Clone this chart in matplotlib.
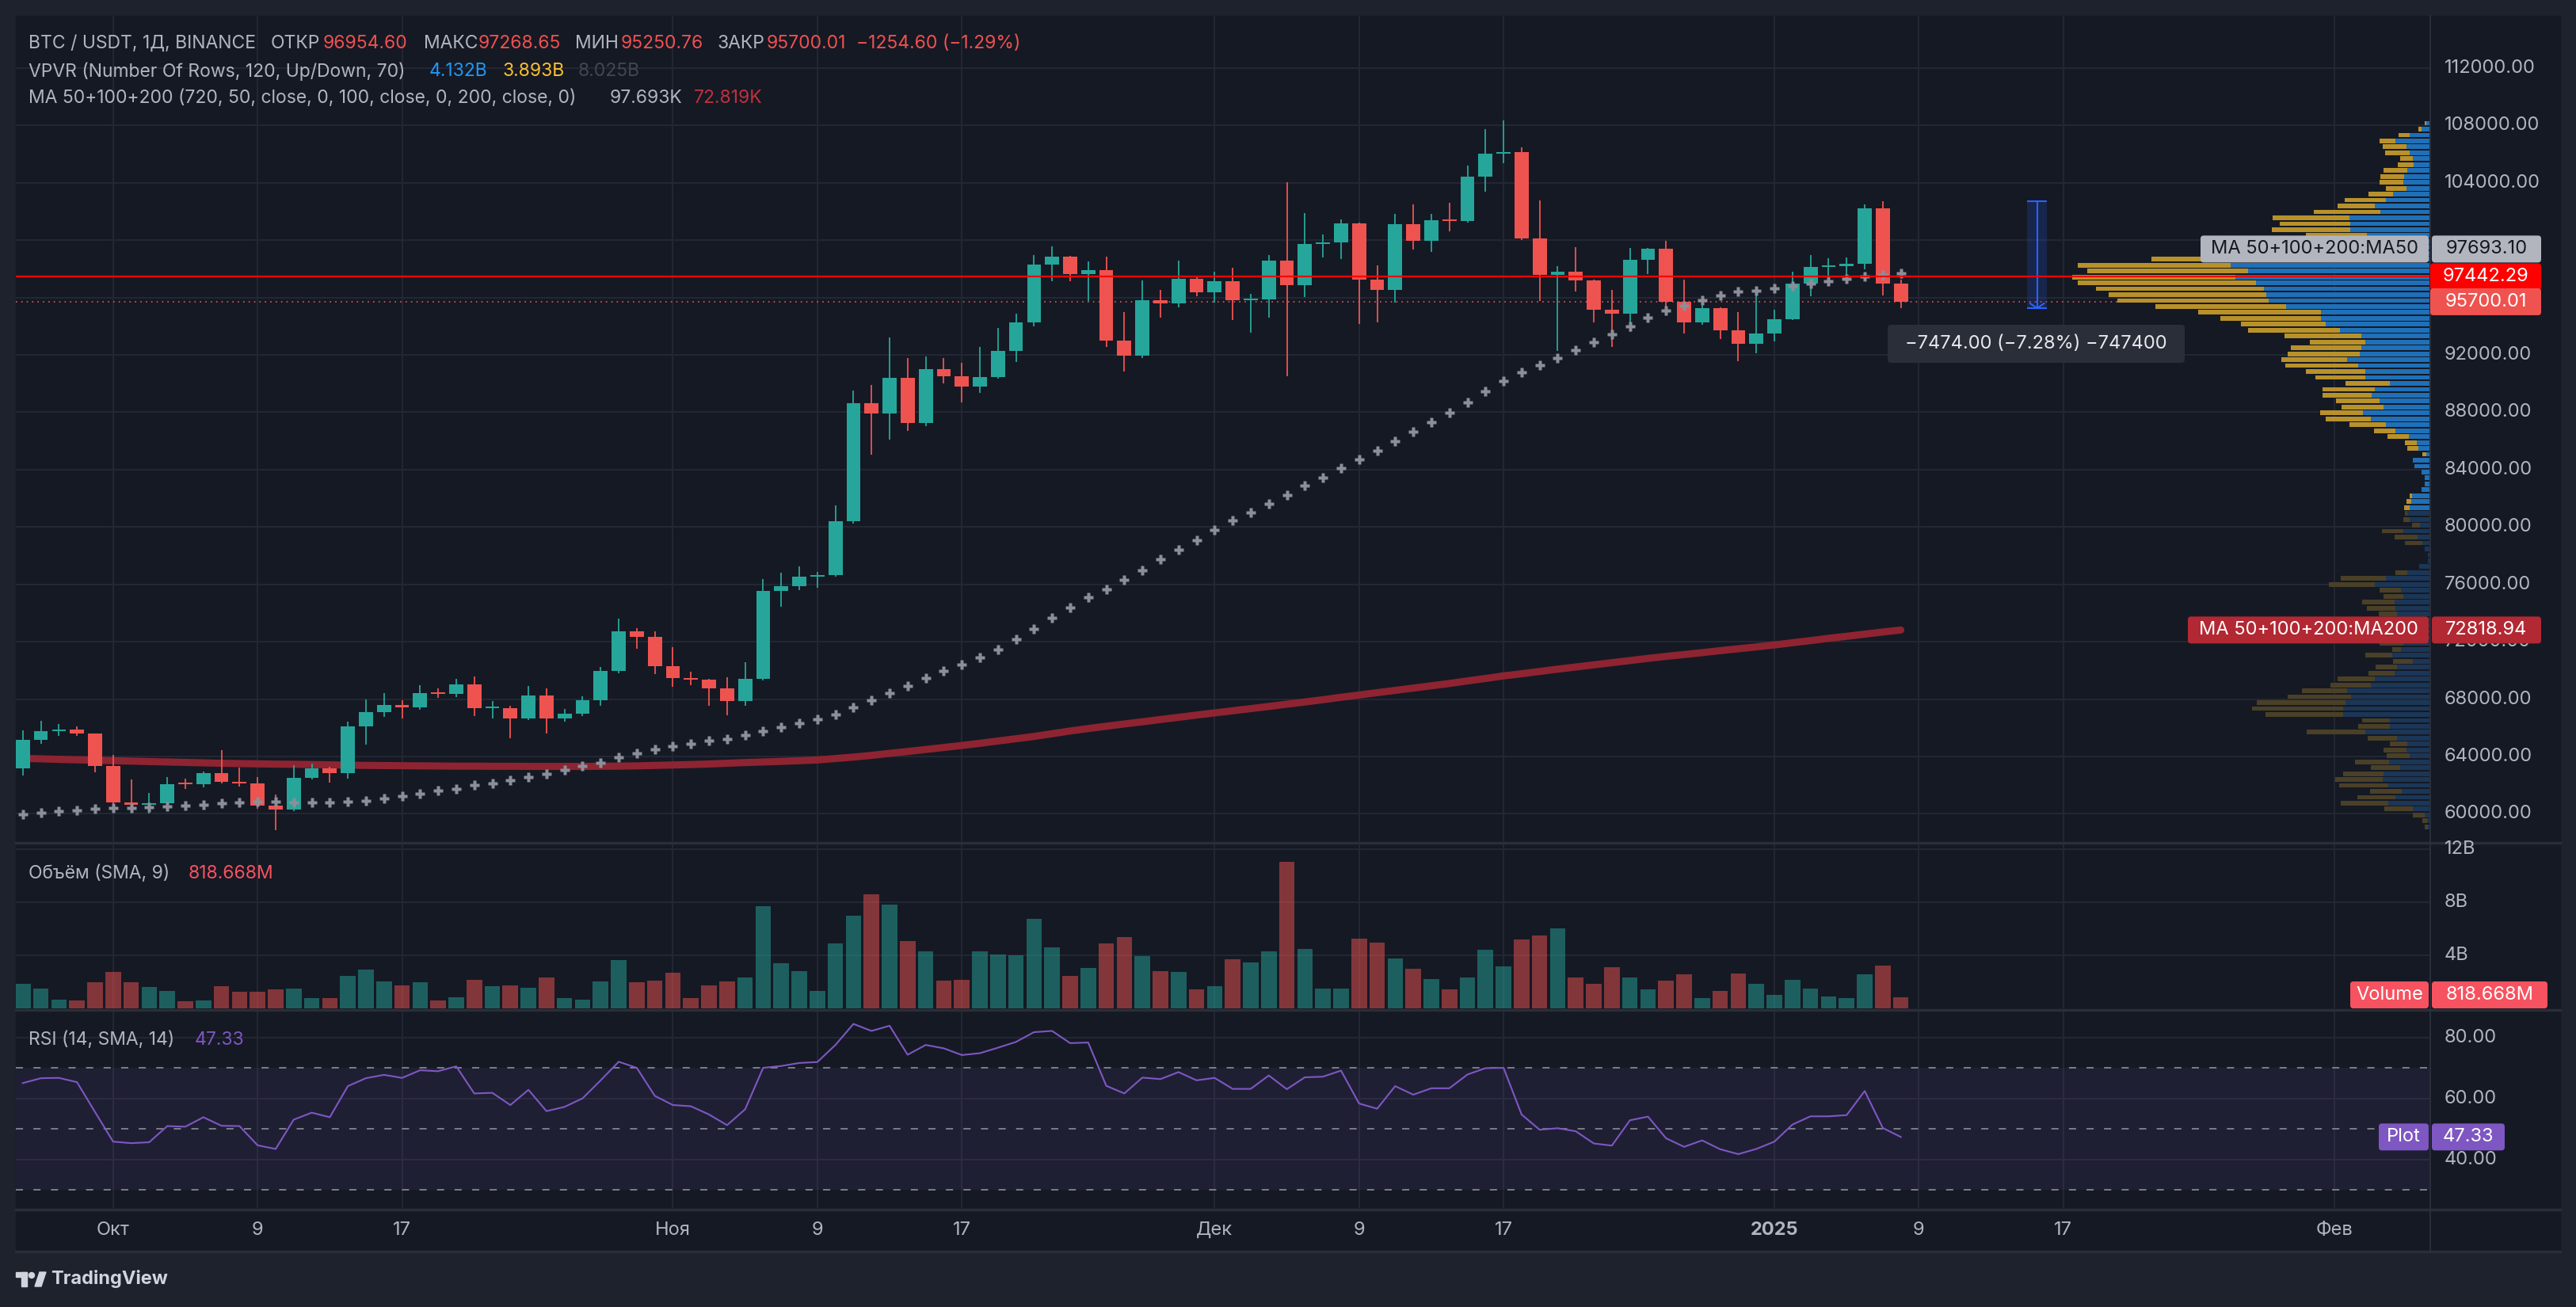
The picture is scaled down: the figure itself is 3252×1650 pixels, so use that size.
import numpy as np
import pandas as pd
import matplotlib
matplotlib.use("Agg")
import matplotlib.pyplot as plt
from matplotlib import transforms, patches

plt.rcParams['font.family'] = ['Inter', 'DejaVu Sans']

# ---- data (BTC/USDT daily, Binance) ----
dates = pd.date_range("2024-09-26", "2025-01-08", freq="D")

opens = [63150, 65180, 65790, 65890, 65600, 63330, 60800, 60650, 60750, 62080,
         62060, 62820, 62240, 62130, 60600, 60300, 62500, 63150, 62850, 66100,
         67110, 67610, 67420, 68430, 68360, 69040, 67370, 67380, 66650, 68240,
         66640, 67010, 67940, 69990, 72740, 72340, 70290, 69460, 69360, 68730,
         67880, 69400, 75550, 75880, 76540, 76670, 80380, 88650, 87890, 90370,
         87260, 91030, 90530, 89810, 90470, 92290, 94270, 98310, 98840, 97610,
         97880, 92980, 91920, 95830, 95560, 97320, 96360, 97150, 95790, 95880,
         98570, 96880, 99730, 99830, 101150, 97220, 96550, 101120, 99930, 101380,
         101320, 104430, 106020, 106110, 100130, 97550, 97780, 97190, 95130, 94870,
         98640, 99370, 95690, 94240, 95230, 93710, 92750, 93510, 94500, 96980,
         98110, 98180, 98340, 102235, 96954.60]
highs = [65840, 66500, 66270, 66120, 65600, 64130, 62420, 61490, 62550, 62450,
         62960, 64470, 63240, 62540, 61360, 63400, 63500, 63260, 66450, 67970,
         68430, 67940, 68990, 68770, 69400, 69560, 67890, 67530, 68900, 68770,
         67340, 68210, 70260, 73630, 72970, 72700, 71640, 69920, 69430, 69530,
         70590, 76380, 76840, 77240, 76870, 81500, 89510, 89900, 93210, 91790,
         91860, 91790, 91460, 92550, 93880, 94870, 98970, 99570, 98900, 98510,
         98870, 94970, 97180, 96550, 98570, 97450, 97810, 98080, 96260, 98970,
         104030, 101880, 100390, 101420, 101210, 98240, 101810, 102480, 101850, 102600,
         105190, 107740, 108353, 106480, 102770, 98170, 99480, 97260, 96520, 99470,
         99470, 99960, 97250, 95960, 95330, 95000, 96320, 95160, 97810, 98940,
         98740, 98800, 102480, 102724.38, 97268.65]
lows = [62700, 64900, 65460, 65460, 62900, 60200, 60100, 60010, 60460, 61720,
        61850, 62120, 61920, 60360, 58895, 60170, 62400, 62200, 62480, 64810,
        66780, 66680, 67280, 68100, 68140, 66800, 66660, 65270, 66550, 65600,
        66450, 66820, 67540, 69790, 71510, 69760, 68870, 69000, 67540, 66880,
        67540, 69300, 74420, 75580, 75750, 76540, 80210, 85040, 86100, 86700,
        87030, 90010, 88680, 89340, 90330, 91520, 94010, 97120, 97120, 95730,
        92550, 90830, 91790, 94600, 95330, 96090, 95660, 94400, 93540, 94570,
        90500, 96020, 98800, 98670, 94140, 94240, 95660, 99330, 99200, 100590,
        101220, 103370, 105350, 99990, 95730, 92250, 96390, 94240, 92550, 93580,
        97610, 95300, 93510, 94110, 93080, 91560, 92090, 92920, 94400, 96060,
        97480, 97220, 97980, 96160, 95250.76]
closes = [65180, 65790, 65890, 65600, 63330, 60800, 60650, 60750, 62080, 62060,
          62820, 62240, 62130, 60600, 60300, 62500, 63150, 62850, 66100, 67110,
          67610, 67420, 68430, 68360, 69040, 67370, 67380, 66650, 68240, 66640,
          67010, 67940, 69990, 72740, 72340, 70290, 69460, 69360, 68730, 67880,
          69400, 75550, 75880, 76540, 76670, 80380, 88650, 87890, 90370, 87260,
          91030, 90530, 89810, 90470, 92290, 94270, 98310, 98840, 97610, 97880,
          92980, 91920, 95830, 95560, 97320, 96360, 97150, 95790, 95880, 98570,
          96880, 99730, 99830, 101150, 97220, 96550, 101120, 99930, 101380, 101320,
          104430, 106020, 106110, 100130, 97550, 97780, 97190, 95130, 94870, 98640,
          99370, 95690, 94240, 95230, 93710, 92750, 93510, 94500, 96980, 98110,
          98180, 98340, 102235, 96954.61, 95700.01]

# volume in billions USDT
volume = [1.86, 1.51, 0.63, 0.57, 1.98, 2.75, 1.98, 1.63, 1.33, 0.51,
          0.57, 1.69, 1.27, 1.27, 1.45, 1.51, 0.75, 0.80, 2.45, 2.92,
          2.04, 1.75, 1.98, 0.57, 0.86, 2.16, 1.69, 1.75, 1.57, 2.33,
          0.80, 0.63, 2.04, 3.63, 1.98, 2.10, 2.69, 0.75, 1.75, 2.04,
          2.33, 7.69, 3.39, 2.80, 1.33, 4.92, 6.98, 8.57, 7.80, 5.10,
          4.27, 2.10, 2.16, 4.27, 4.04, 3.98, 6.75, 4.57, 2.45, 3.04,
          4.92, 5.39, 3.92, 2.80, 2.75, 1.45, 1.69, 3.69, 3.45, 4.27,
          11.04, 4.45, 1.51, 1.51, 5.27, 4.98, 3.75, 2.98, 2.22, 1.45,
          2.33, 4.39, 3.16, 5.22, 5.51, 6.04, 2.33, 1.86, 3.10, 2.33,
          1.45, 2.10, 2.57, 0.80, 1.33, 2.63, 1.86, 1.04, 2.16, 1.51,
          0.92, 0.80, 2.57, 3.22, 0.818668]

ma50 = [59970, 60100, 60200, 60270, 60370, 60400, 60430, 60470, 60500, 60600,
        60630, 60730, 60800, 60830, 60830, 60810, 60800, 60800, 60860, 60930,
        61100, 61230, 61430, 61620, 61750, 62020, 62150, 62350, 62580, 62780,
        63040, 63340, 63570, 63930, 64230, 64500, 64700, 64900, 65100, 65230,
        65490, 65760, 66020, 66320, 66620, 66920, 67440, 67940, 68440, 68930,
        69460, 69960, 70420, 70920, 71480, 72170, 72900, 73660, 74360, 75090,
        75680, 76310, 76970, 77730, 78390, 79090, 79780, 80440, 81010, 81640,
        82200, 82860, 83460, 84120, 84710, 85310, 85970, 86630, 87290, 87990,
        88710, 89480, 90200, 90770, 91260, 91790, 92350, 92880, 93410, 94010,
        94600, 95070, 95430, 95830, 96120, 96390, 96490, 96620, 96820, 96980,
        97120, 97280, 97450, 97580, 97693.10]
ma200 = [63870, 63840, 63800, 63770, 63740, 63710, 63680, 63650, 63620, 63590,
         63560, 63530, 63510, 63490, 63470, 63460, 63440, 63420, 63400, 63380,
         63370, 63360, 63350, 63340, 63330, 63330, 63320, 63320, 63310, 63310,
         63310, 63310, 63320, 63330, 63350, 63380, 63410, 63440, 63480, 63530,
         63580, 63620, 63660, 63710, 63760, 63860, 63960, 64080, 64220, 64350,
         64490, 64630, 64770, 64920, 65080, 65240, 65400, 65590, 65780, 65950,
         66110, 66270, 66420, 66580, 66730, 66890, 67040, 67190, 67340, 67490,
         67650, 67800, 67960, 68130, 68290, 68450, 68610, 68770, 68930, 69090,
         69270, 69440, 69620, 69770, 69930, 70090, 70240, 70390, 70540, 70690,
         70840, 70980, 71110, 71240, 71380, 71510, 71640, 71780, 71930, 72080,
         72240, 72380, 72530, 72680, 72818.94]

rsi = [65.0, 66.6, 66.7, 65.3, 55.5, 45.8, 45.3, 45.6, 50.9, 50.7,
       53.8, 51.0, 50.9, 44.6, 43.4, 53.0, 55.3, 53.8, 64.0, 66.6,
       67.7, 66.7, 69.2, 68.9, 70.5, 61.6, 61.8, 57.8, 62.8, 55.8,
       57.2, 60.0, 65.9, 72.0, 70.0, 60.8, 57.8, 57.4, 54.7, 51.2,
       56.4, 70.0, 70.6, 71.6, 71.9, 77.5, 84.4, 82.1, 83.8, 74.3,
       77.5, 76.4, 74.2, 74.8, 76.6, 78.5, 81.7, 82.1, 78.1, 78.3,
       64.1, 61.6, 66.8, 66.3, 68.6, 65.9, 66.7, 63.1, 63.1, 67.5,
       63.0, 66.9, 67.1, 69.1, 58.3, 56.6, 64.0, 61.2, 63.3, 63.3,
       67.8, 69.9, 70.0, 54.7, 49.7, 50.2, 49.2, 45.2, 44.5, 52.8,
       54.0, 46.9, 44.1, 46.2, 43.3, 41.7, 43.4, 45.8, 51.4, 54.1,
       54.1, 54.5, 62.4, 50.3, 47.33]

# visible range volume profile, 120 rows from top (108353) to bottom (58895)
vp_high, vp_low = 108353, 58895
vp_total = [13, 28, 73, 118, 111, 105, 70, 76, 108, 116,
            118, 103, 143, 198, 216, 270, 366, 350, 368, 288,
            340, 420, 520, 648, 818, 796, 831, 818, 776, 746,
            726, 638, 538, 488, 440, 422, 338, 280, 323, 331,
            345, 336, 288, 266, 196, 250, 250, 218, 206, 256,
            242, 188, 130, 100, 58, 54, 18, 40, 36, 21,
            13, 13, 20, 48, 56, 60, 58, 63, 43, 113,
            83, 58, 13, 6, 6, 26, 80, 208, 236, 118,
            108, 158, 148, 120, 128, 100, 80, 90, 118, 88,
            150, 86, 126, 143, 216, 231, 298, 331, 402, 413,
            383, 158, 168, 286, 146, 93, 108, 101, 175, 138,
            203, 221, 211, 140, 170, 208, 106, 40, 18, 13]
vp_up = [10, 21, 48, 80, 56, 48, 40, 38, 53, 60,
         63, 56, 86, 103, 128, 116, 188, 186, 186, 148,
         170, 210, 260, 320, 463, 423, 453, 405, 386, 380,
         375, 335, 253, 253, 243, 210, 160, 150, 160, 163,
         193, 168, 150, 150, 93, 128, 136, 118, 108, 156,
         138, 103, 80, 50, 32, 28, 10, 40, 36, 21,
         13, 13, 20, 42, 45, 48, 53, 48, 23, 63,
         30, 18, 13, 6, 6, 26, 53, 103, 128, 68,
         63, 83, 80, 78, 78, 60, 50, 55, 63, 68,
         88, 40, 78, 83, 128, 138, 193, 183, 196, 203,
         203, 93, 93, 150, 78, 53, 56, 48, 96, 70,
         108, 110, 98, 66, 80, 98, 40, 13, 8, 6]
vp_value_area_rows = 66

hline_price = 97442.29
measure_top, measure_bottom = 102724.38, 95250.38

tick_dates = ["2024-10-01", "2024-10-09", "2024-10-17", "2024-11-01", "2024-11-09",
              "2024-11-17", "2024-12-01", "2024-12-09", "2024-12-17", "2025-01-01",
              "2025-01-09", "2025-01-17", "2025-02-01"]
tick_labels = ["Окт", "9", "17", "Ноя", "9", "17", "Дек", "9", "17", "2025", "9", "17", "Фев"]
price_ticks = list(range(60000, 112001, 4000))
vol_ticks = [4, 8, 12]
rsi_ticks = [80, 60, 40]

# ---- colours ----
OUTER = "#1e222d"
BG = "#151924"
GRID = "#232733"
SEP = "#2a2e39"
TXT = "#b2b5be"
GREEN = "#26a69a"
RED = "#ef5350"
RED_T = "#f0514f"

W, H = 3252, 1650
fig = plt.figure(figsize=(W / 100, H / 100), dpi=100, facecolor=OUTER)


def frect(x0, y0, x1, y1):
    return [x0 / W, 1 - y1 / H, (x1 - x0) / W, (y1 - y0) / H]


fig.add_artist(patches.Rectangle((20 / W, 1 - 1580 / H), 3212 / W, 1560 / H,
                                 transform=fig.transFigure, color=BG, zorder=-10))

ax = fig.add_axes(frect(20, 20, 3068, 1062))
ax_vol = fig.add_axes(frect(20, 1066, 3068, 1273), sharex=ax)
ax_rsi = fig.add_axes(frect(20, 1277, 3068, 1525), sharex=ax)
ax_vp = fig.add_axes(frect(20, 20, 3068, 1062), sharey=ax)

for a in (ax, ax_vol, ax_rsi, ax_vp):
    a.set_facecolor("none")
    for s in a.spines.values():
        s.set_visible(False)
    a.tick_params(left=False, bottom=False, labelleft=False, labelbottom=False)

n = len(dates)
x = np.arange(n)
o, h, l, c = map(np.array, (opens, highs, lows, closes))
up = c >= o
cols = np.where(up, GREEN, RED)

ax.set_xlim(-0.386, 133.32)
ax.set_ylim(58095, 115630)
ax_vol.set_ylim(0, 12.36)
ax_rsi.set_ylim(24.04, 88.46)

tick_idx = [(pd.Timestamp(d) - dates[0]).days for d in tick_dates]

# grid
for p in price_ticks:
    ax.axhline(p, color=GRID, lw=1.5, zorder=0)
for v in vol_ticks:
    ax_vol.axhline(v, color=GRID, lw=1.5, zorder=0)
for r in rsi_ticks:
    ax_rsi.axhline(r, color=GRID, lw=1.5, zorder=0)
for i in tick_idx:
    for a in (ax, ax_vol, ax_rsi):
        a.axvline(i, color=GRID, lw=1.5, zorder=0)

# candles
ax.vlines(x, l, h, colors=cols, lw=1.3, zorder=3)
ax.bar(x, np.maximum(np.abs(c - o), 110), bottom=np.minimum(o, c), width=0.78,
       color=cols, linewidth=0, zorder=4)

# moving averages
ax.plot(x, ma200, color="#8e2431", lw=6.5, solid_capstyle="round", zorder=2)
ax.plot(x, ma50, ls="none", marker="P", ms=8, color="#8c8f9a", mec="none", zorder=5)

# last price line
ax.axhline(closes[-1], color=RED, lw=1.2, ls=(0, (1, 3.1)), zorder=1)

# volume profile
rows = np.arange(len(vp_total))
row_h = (vp_high - vp_low) / len(vp_total)
centers = vp_high - (rows + 0.5) * row_h
bright = rows < vp_value_area_rows
ax_vp.barh(centers, -np.array(vp_total), height=row_h * 0.78,
           color=np.where(bright, "#b8912a", "#4a4027"), linewidth=0, zorder=2)
ax_vp.barh(centers, -np.array(vp_up), height=row_h * 0.78,
           color=np.where(bright, "#1f70b8", "#1b3656"), linewidth=0, zorder=3)
ax_vp.set_xlim(-5604, 0)
ax_vp.axhline(hline_price, color="#ff0000", lw=1.6, zorder=10)

# measure tool
xm = 111.55
ax.fill_between([111.0, 112.1], measure_bottom, measure_top, color="#2962ff",
                alpha=0.18, lw=0, zorder=6)
ax.vlines(xm, measure_bottom, measure_top, color="#2962ff", lw=1.5, zorder=7)
ax.hlines([measure_top, measure_bottom], 111.0, 112.1, color="#2962ff", lw=1.5, zorder=7)
ax.plot([xm - 0.38, xm, xm + 0.38], [measure_bottom + 330, measure_bottom, measure_bottom + 330],
        color="#2962ff", lw=1.5, zorder=7)

# volume
ax_vol.bar(x, volume, width=0.86, color=cols, alpha=0.5, linewidth=0)

# RSI
ax_rsi.axhspan(30, 70, color="#7e57c2", alpha=0.1, lw=0)
for lev in (70, 50, 30):
    ax_rsi.axhline(lev, color="#787b86", lw=1.45, ls=(0, (4.5, 6.5)))
ax_rsi.plot(x, rsi, color="#7e57c2", lw=1.5)

# separators
def fig_hline(y, x0=20, x1=3232, lw=2.5, color=SEP):
    fig.add_artist(plt.Line2D([x0 / W, x1 / W], [1 - y / H, 1 - y / H],
                              transform=fig.transFigure, color=color, lw=lw, zorder=5))

fig_hline(1064)
fig_hline(1275)
fig_hline(1527)
fig_hline(1580)
fig.add_artist(plt.Line2D([3068 / W, 3068 / W], [1 - 20 / H, 1 - 1580 / H],
                          transform=fig.transFigure, color=SEP, lw=1.5, zorder=5))


def ypx(axis, val):
    return H - axis.transData.transform((0, val))[1]


FS = 17
BH = 34

# label boxes on the price axis (y centres in pixels)
y_h = ypx(ax, hline_price)
y_last = ypx(ax, closes[-1])
y50 = y_h - BH - 1
y200 = ypx(ax, ma200[-1])
covered = [y_h, y_last, y50]

# right-axis tick labels (those fully hidden under a label box are not drawn)
bl_main = transforms.blended_transform_factory(fig.transFigure, ax.transData)
bl_vol = transforms.blended_transform_factory(fig.transFigure, ax_vol.transData)
bl_rsi = transforms.blended_transform_factory(fig.transFigure, ax_rsi.transData)
for p in price_ticks:
    if min(abs(ypx(ax, p) - yc) for yc in covered) < 14:
        continue
    fig.text(3086 / W, p, f"{p:.2f}", transform=bl_main, color=TXT, fontsize=FS,
             va="center", ha="left", zorder=6)
for v in vol_ticks:
    fig.text(3086 / W, v, f"{v}B", transform=bl_vol, color=TXT, fontsize=FS,
             va="center", ha="left", zorder=6)
for r in rsi_ticks:
    fig.text(3086 / W, r, f"{r:.2f}", transform=bl_rsi, color=TXT, fontsize=FS,
             va="center", ha="left", zorder=6)

# x-axis labels
bl_x = transforms.blended_transform_factory(ax.transData, fig.transFigure)
for i, lab in zip(tick_idx, tick_labels):
    fig.text(i, 1 - 1553 / H, lab, transform=bl_x, color=TXT, fontsize=FS,
             ha="center", va="center", fontweight="bold" if lab == "2025" else "normal")


def box(x0, x1, yc, hh, color, text, tcolor="white", size=FS):
    fig.add_artist(patches.FancyBboxPatch(
        (x0 / W, 1 - (yc + hh / 2) / H), (x1 - x0) / W, hh / H,
        boxstyle=f"round,pad=0,rounding_size={4 / W}", mutation_aspect=W / H,
        transform=fig.transFigure, fc=color, ec="none", zorder=20))
    fig.text((x0 + x1) / 2 / W, 1 - yc / H, text, color=tcolor, fontsize=size,
             ha="center", va="center", zorder=21)


box(3068, 3208, y_h, BH, "#ff0000", f"{hline_price:.2f}")
box(3068, 3208, y_last, BH, RED, f"{closes[-1]:.2f}")
box(2778, 3066, y50, BH, "#b2b5be", "MA 50+100+200:MA50", "#131722")
box(3070, 3208, y50, BH, "#b2b5be", f"{ma50[-1]:.2f}", "#131722")
box(2762, 3066, y200, BH, "#b22833", "MA 50+100+200:MA200")
box(3070, 3208, y200, BH, "#b22833", f"{ma200[-1]:.2f}")
yv = min(ypx(ax_vol, volume[-1]), 1273 - BH / 2)
box(2967, 3066, yv, BH, "#f7525f", "Volume")
box(3070, 3216, yv, BH, "#f7525f", f"{volume[-1] * 1000:.3f}M")
yr = ypx(ax_rsi, rsi[-1])
box(3003, 3066, yr, BH, "#7e57c2", "Plot")
box(3070, 3162, yr, BH, "#7e57c2", f"{rsi[-1]:.2f}")

# measure label
diff = measure_bottom - measure_top
box(2383, 2758, 434, 48, "#2a2e39",
    f"−{abs(diff):.2f} (−{abs(diff) / measure_top * 100:.2f}%) −{abs(diff) * 100:.0f}", "#e8e9ec", 17)


# legend texts, each piece at its place in the reference
LFS = 16.5


def legend_row(y, parts, size=LFS):
    for xx, s, col in parts:
        fig.text(xx / W, 1 - y / H, s, color=col, fontsize=size, ha="left", va="center", zorder=8)


chg = closes[-1] - closes[-2]
legend_row(55, [(36, "BTC / USDT, 1Д, BINANCE", TXT),
                (342, "ОТКР", TXT), (408, f"{opens[-1]:.2f}", RED_T),
                (535, "МАКС", TXT), (604, f"{highs[-1]:.2f}", RED_T),
                (726, "МИН", TXT), (784, f"{lows[-1]:.2f}", RED_T),
                (905, "ЗАКР", TXT), (968, f"{closes[-1]:.2f}", RED_T),
                (1081, f"−{abs(chg):.2f} (−{abs(chg) / closes[-2] * 100:.2f}%)", RED_T)])
legend_row(90, [(36, "VPVR (Number Of Rows, 120, Up/Down, 70)", TXT),
                (542, "4.132B", "#2196f3"), (634, "3.893B", "#fbc02d"), (730, "8.025B", "#434651")])
legend_row(124, [(36, "MA 50+100+200 (720, 50, close, 0, 100, close, 0, 200, close, 0)", TXT),
                 (770, f"{ma50[-1] / 1000:.3f}K", TXT), (876, f"{ma200[-1] / 1000:.3f}K", "#c0303c")])
legend_row(1103, [(36, "Объём (SMA, 9)", TXT), (238, f"{volume[-1] * 1000:.3f}M", "#f7525f")])
legend_row(1313, [(36, "RSI (14, SMA, 14)", TXT), (246, f"{rsi[-1]:.2f}", "#7e57c2")])

# TradingView logo
LOGO = "#d1d4dc"
fig.add_artist(patches.Rectangle((20 / W, 1 - 1612 / H), 14 / W, 6 / H, transform=fig.transFigure, color=LOGO))
fig.add_artist(patches.Rectangle((27 / W, 1 - 1624 / H), 7 / W, 18 / H, transform=fig.transFigure, color=LOGO))
fig.add_artist(patches.Ellipse((40 / W, 1 - 1610 / H), 7 / W, 7 / H, transform=fig.transFigure, color=LOGO))
fig.add_artist(patches.Polygon([(44 / W, 1 - 1624 / H), (50 / W, 1 - 1606 / H), (58 / W, 1 - 1606 / H),
                                (52 / W, 1 - 1624 / H)], transform=fig.transFigure, color=LOGO))
fig.text(64 / W, 1 - 1615 / H, "TradingView", color=LOGO, fontsize=17, fontweight="bold",
         ha="left", va="center")

fig.savefig("out.png", dpi=100, facecolor=OUTER)
